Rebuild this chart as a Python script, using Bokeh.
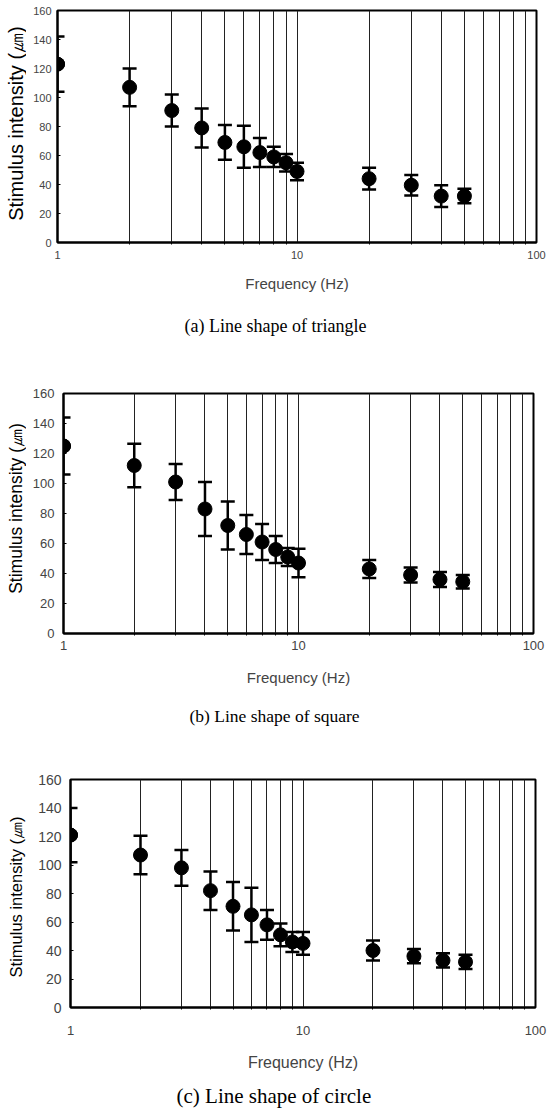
import math
from bokeh.plotting import figure
from bokeh.models import (Whisker, TeeHead, ColumnDataSource, FixedTicker,
                          PrintfTickFormatter, Title, Range1d)
from bokeh.layouts import row
from bokeh.core.properties import value
from bokeh.embed import file_html
from bokeh.resources import INLINE

# ---------------- data ----------------
freq = [1, 2, 3, 4, 5, 6, 7, 8, 9, 10, 20, 30, 40, 50]

tri_mean = [123, 107, 91, 79, 69, 66, 62, 59, 55, 49, 44, 39.5, 32, 32]
tri_err = [19, 13, 11, 13.5, 12, 14.5, 10, 7, 6, 6, 7.5, 7, 7.5, 5]

sq_mean = [125, 112, 101, 83, 72, 66, 61, 56, 51, 47, 43, 39, 36, 34.5]
sq_err = [19, 14.5, 12, 18, 16, 13, 12, 9, 6, 9.5, 6, 5, 5, 4.5]

cir_mean = [121, 107, 98, 82, 71, 65, 58, 51, 46, 45, 40, 36, 33, 32]
cir_err = [19, 13.5, 12.5, 13.5, 17, 19, 10.5, 8, 7, 8, 7, 5, 5, 5]

x_lo, x_hi = 1, 100
y_lo, y_hi = 0, 160
x_major = [1, 10, 100]
x_minor = [2, 3, 4, 5, 6, 7, 8, 9, 20, 30, 40, 50, 60, 70, 80, 90]
y_ticks = [0, 20, 40, 60, 80, 100, 120, 140, 160]

x_title = "Frequency (Hz)"
y_title = "Stimulus intensity (\u339b)"
captions = ["(a) Line shape of triangle",
            "(b) Line shape of square",
            "(c) Line shape of circle"]

YW = 26          # width of the strip holding the y title


def title_strip(cfg):
    s = figure(width=YW, height=cfg["h"], x_range=Range1d(0, YW),
               y_range=Range1d(0, cfg["fh"]), output_backend="svg",
               toolbar_location=None, x_axis_location=None, y_axis_location=None,
               min_border_left=0, min_border_right=0,
               min_border_top=cfg["t"], min_border_bottom=cfg["b"])
    s.outline_line_color = None
    s.grid.grid_line_color = None
    s.background_fill_color = "white"
    s.border_fill_color = "white"
    s.text(x=[15], y=[cfg["yt_pos"]], text=[y_title], angle=math.pi / 2,
           text_align="center", text_baseline="middle",
           text_font=value("Liberation Sans"), text_font_size=cfg["yt_fs"],
           text_color="black")
    return s


def panel(mean, err, caption, cfg):
    p = figure(width=547 - YW, height=cfg["h"], x_axis_type="log",
               x_range=Range1d(x_lo, x_hi), y_range=Range1d(y_lo, y_hi),
               output_backend="svg", toolbar_location=None,
               min_border_left=cfg["l"], min_border_right=cfg["r"],
               min_border_top=cfg["t"], min_border_bottom=cfg["b"])
    p.background_fill_color = "white"
    p.border_fill_color = "white"
    p.outline_line_color = "black"
    p.outline_line_width = 2

    # x axis
    xt = FixedTicker(ticks=x_major, minor_ticks=x_minor)
    p.xaxis.ticker = xt
    p.xaxis.formatter = PrintfTickFormatter(format="%d")
    p.xaxis.major_tick_out = 0
    p.xaxis.major_tick_in = 0
    p.xaxis.minor_tick_out = 2
    p.xaxis.minor_tick_in = 0
    p.xaxis.axis_line_width = 2
    p.xaxis.major_label_text_font = "Liberation Sans"
    p.xaxis.major_label_text_font_size = cfg["xtick_fs"]
    p.xaxis.major_label_standoff = cfg["xls"]
    p.xaxis.axis_label = x_title
    p.xaxis.axis_label_text_font = "Liberation Sans"
    p.xaxis.axis_label_text_font_style = "normal"
    p.xaxis.axis_label_text_font_size = cfg["xt_fs"]
    p.xaxis.axis_label_standoff = cfg["xas"]

    # y axis
    p.yaxis.ticker = FixedTicker(ticks=y_ticks)
    p.yaxis.major_tick_out = 0
    p.yaxis.major_tick_in = 3
    p.yaxis.minor_tick_out = 0
    p.yaxis.minor_tick_in = 0
    p.yaxis.axis_line_width = 2
    p.yaxis.major_label_text_font = "Liberation Sans"
    p.yaxis.major_label_text_font_size = cfg["ytick_fs"]
    p.yaxis.major_label_standoff = cfg["yls"]

    # grid
    p.xgrid.ticker = xt
    p.xgrid.grid_line_color = "#222222"
    p.xgrid.grid_line_width = 1
    p.xgrid.minor_grid_line_color = "#222222"
    p.xgrid.minor_grid_line_width = 1
    p.ygrid.grid_line_color = None

    lower = [m - e for m, e in zip(mean, err)]
    upper = [m + e for m, e in zip(mean, err)]
    src = ColumnDataSource(dict(x=freq, y=mean, lower=lower, upper=upper))

    w = Whisker(source=src, base="x", upper="upper", lower="lower",
                dimension="height", line_color="black", line_width=2.5,
                upper_head=TeeHead(size=cfg["cap"], line_color="black", line_width=2.5),
                lower_head=TeeHead(size=cfg["cap"], line_color="black", line_width=2.5))
    p.add_layout(w)
    p.scatter("x", "y", source=src, size=cfg["ms"], fill_color="black",
              line_color="black")

    # the point sitting on the frame edge (x = 1): its marker is repeated as a
    # thick round-capped whisker head, which is not cut off by the frame
    edge = ColumnDataSource(dict(x=freq[:1], y=mean[:1]))
    dot = TeeHead(size=0.5, line_color="black", line_width=cfg["ms"], line_cap="round")
    dot2 = TeeHead(size=0.5, line_color="black", line_width=cfg["ms"], line_cap="round")
    p.add_layout(Whisker(source=edge, base="x", upper="y", lower="y",
                         dimension="height", line_color="black", line_width=1,
                         upper_head=dot, lower_head=dot2))

    t = Title(text=caption, align="left", offset=cfg["cap_off"],
              text_font="Liberation Serif", text_font_style="normal",
              text_font_size=cfg["cap_fs"], text_color="black",
              standoff=cfg["cap_so"])
    p.add_layout(t, "below")
    return p


cfgs = [
    dict(h=383, fh=232, l=31, r=11, t=10, b=141, xtick_fs="11px", ytick_fs="11px",
         xt_fs="15px", yt_fs="20px", yt_pos=119, xls=6, xas=13, yls=6, cap=14, ms=14,
         cap_off=127, cap_fs="18px", cap_so=38),
    dict(h=386, fh=240, l=37, r=14, t=10, b=136, xtick_fs="13px", ytick_fs="13px",
         xt_fs="15px", yt_fs="17.5px", yt_pos=125, xls=5, xas=16, yls=9, cap=14, ms=14,
         cap_off=126, cap_fs="17.5px", cap_so=31),
    dict(h=347, fh=229, l=44, r=12, t=10, b=108, xtick_fs="13px", ytick_fs="14px",
         xt_fs="16px", yt_fs="16.5px", yt_pos=111, xls=16, xas=16, yls=9, cap=14, ms=14,
         cap_off=106, cap_fs="21px", cap_so=17),
]

means = [tri_mean, sq_mean, cir_mean]
errs = [tri_err, sq_err, cir_err]

rows = [row(title_strip(c), panel(m, e, cap, c), spacing=0)
        for m, e, cap, c in zip(means, errs, captions, cfgs)]

open("out.html", "w").write(file_html(rows, INLINE))
